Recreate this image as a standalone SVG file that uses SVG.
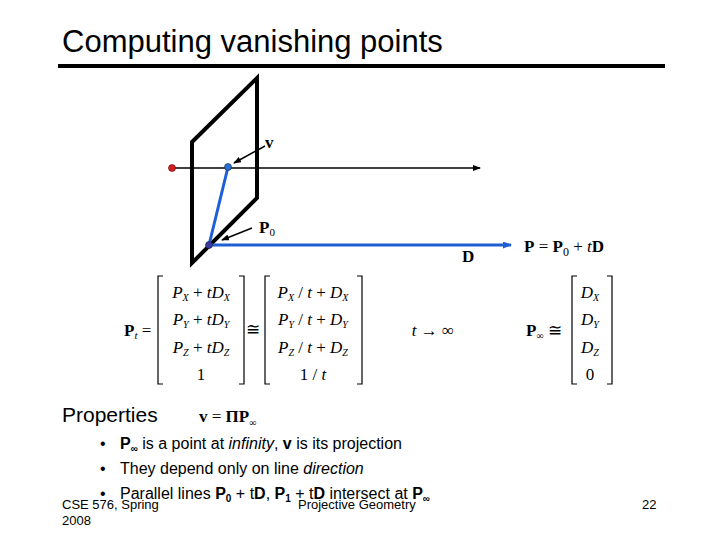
<svg xmlns="http://www.w3.org/2000/svg" width="720" height="540" viewBox="0 0 720 540">
<defs>
<marker id="ab" markerWidth="8" markerHeight="6" refX="7" refY="3" orient="auto" markerUnits="userSpaceOnUse"><path d="M0,0 L8,3 L0,6 Z" fill="#000"/></marker>
<marker id="abl" markerWidth="9" markerHeight="7" refX="8" refY="3.5" orient="auto" markerUnits="userSpaceOnUse"><path d="M0,0 L9,3.5 L0,7 Z" fill="#1f5fd6"/></marker>
<style>
.s{font-family:"Liberation Sans",Arial,sans-serif;fill:#000}
.m{font-family:"Liberation Serif","Times New Roman",serif;fill:#000;font-size:17px}
.b{font-weight:bold}
.i{font-style:italic}
.br{fill:none;stroke:#000;stroke-width:1.2}
</style>
</defs>
<rect width="720" height="540" fill="#fff"/>
<text class="s" x="62" y="52" font-size="31">Computing vanishing points</text>
<line x1="58" y1="66" x2="665" y2="66" stroke="#000" stroke-width="4"/>
<g id="plane"><path d="M192,142 L257,78 L257,198 L192,263 Z" fill="none" stroke="#000" stroke-width="4"/></g>
<g id="connectors">
<line x1="172" y1="168" x2="480" y2="168" stroke="#000" stroke-width="1.5" marker-end="url(#ab)"/>
<line x1="228" y1="167" x2="209" y2="245" stroke="#1f5fd6" stroke-width="3"/>
<line x1="209" y1="245" x2="511" y2="245" stroke="#1f5fd6" stroke-width="3" marker-end="url(#abl)"/>
<line x1="265" y1="146" x2="234" y2="163" stroke="#000" stroke-width="1.5" marker-end="url(#ab)"/>
<line x1="252" y1="228" x2="222" y2="240" stroke="#000" stroke-width="1.5" marker-end="url(#ab)"/>
</g>
<g id="points">
<circle cx="172" cy="168" r="3.5" fill="#d42020" stroke="#600" stroke-width="0.6"/>
<circle cx="228" cy="167" r="3.5" fill="#2a6fd6" stroke="#123" stroke-width="0.6"/>
<circle cx="209" cy="245" r="3.5" fill="#3a3aa0" stroke="#123" stroke-width="0.6"/>
</g>
<text class="m b" x="265" y="148" font-size="15">v</text>
<text class="m b" x="259" y="233" font-size="16">P<tspan font-size="11" dy="3" font-weight="normal">0</tspan></text>
<text class="m b" x="462" y="262" font-size="15">D</text>
<text class="m" x="524" y="252" font-size="19"><tspan class="b">P</tspan> = <tspan class="b">P</tspan><tspan font-size="12" dy="4">0</tspan><tspan dy="-4"> + </tspan><tspan class="i">t</tspan><tspan class="b">D</tspan></text>
<g id="equation">
<text class="m" x="124" y="336"><tspan class="b">P</tspan><tspan class="i" font-size="11" dy="3">t</tspan><tspan dy="-3"> =</tspan></text>
<path class="br" d="M163,276 H158 V384 H163 M239,276 H244 V384 H239"/>
<g class="m" text-anchor="middle">
<text x="201" y="298"><tspan class="i">P</tspan><tspan class="i" font-size="10" dy="3">X</tspan><tspan dy="-3"> + </tspan><tspan class="i">tD</tspan><tspan class="i" font-size="10" dy="3">X</tspan></text>
<text x="201" y="325"><tspan class="i">P</tspan><tspan class="i" font-size="10" dy="3">Y</tspan><tspan dy="-3"> + </tspan><tspan class="i">tD</tspan><tspan class="i" font-size="10" dy="3">Y</tspan></text>
<text x="201" y="353"><tspan class="i">P</tspan><tspan class="i" font-size="10" dy="3">Z</tspan><tspan dy="-3"> + </tspan><tspan class="i">tD</tspan><tspan class="i" font-size="10" dy="3">Z</tspan></text>
<text x="201" y="380">1</text>
<text x="253" y="335">≅</text>
<text x="313" y="298"><tspan class="i">P</tspan><tspan class="i" font-size="10" dy="3">X</tspan><tspan dy="-3"> / </tspan><tspan class="i">t</tspan> + <tspan class="i">D</tspan><tspan class="i" font-size="10" dy="3">X</tspan></text>
<text x="313" y="325"><tspan class="i">P</tspan><tspan class="i" font-size="10" dy="3">Y</tspan><tspan dy="-3"> / </tspan><tspan class="i">t</tspan> + <tspan class="i">D</tspan><tspan class="i" font-size="10" dy="3">Y</tspan></text>
<text x="313" y="353"><tspan class="i">P</tspan><tspan class="i" font-size="10" dy="3">Z</tspan><tspan dy="-3"> / </tspan><tspan class="i">t</tspan> + <tspan class="i">D</tspan><tspan class="i" font-size="10" dy="3">Z</tspan></text>
<text x="313" y="380">1 / <tspan class="i">t</tspan></text>
<text x="433" y="336"><tspan class="i">t</tspan> → ∞</text>
<text x="590" y="298"><tspan class="i">D</tspan><tspan class="i" font-size="10" dy="3">X</tspan></text>
<text x="590" y="325"><tspan class="i">D</tspan><tspan class="i" font-size="10" dy="3">Y</tspan></text>
<text x="590" y="353"><tspan class="i">D</tspan><tspan class="i" font-size="10" dy="3">Z</tspan></text>
<text x="590" y="380">0</text>
</g>
<path class="br" d="M270,276 H265 V384 H270 M357,276 H362 V384 H357"/>
<text class="m" x="526" y="336"><tspan class="b">P</tspan><tspan font-size="10" dy="3">∞</tspan><tspan dy="-3"> ≅</tspan></text>
<path class="br" d="M577,276 H572 V384 H577 M607,276 H612 V384 H607"/>
</g>
<text class="s" x="62" y="422" font-size="21">Properties</text>
<text class="m" x="199" y="422" font-size="17"><tspan class="b">v</tspan> = <tspan class="b">ΠP</tspan><tspan font-size="10" dy="4">∞</tspan></text>
<g class="s" font-size="16">
<text x="100" y="449">•</text><text x="120" y="449"><tspan class="b">P</tspan><tspan class="b" font-size="10" dy="3">∞</tspan><tspan dy="-3"> is a point at </tspan><tspan class="i">infinity</tspan>, <tspan class="b">v</tspan> is its projection</text>
<text x="100" y="474">•</text><text x="120" y="474">They depend only on line <tspan class="i">direction</tspan></text>
<text x="100" y="499">•</text><text x="120" y="499">Parallel lines <tspan class="b">P</tspan><tspan class="b" font-size="10" dy="3">0</tspan><tspan dy="-3"> + t</tspan><tspan class="b">D</tspan>, <tspan class="b">P</tspan><tspan class="b" font-size="10" dy="3">1</tspan><tspan dy="-3"> + t</tspan><tspan class="b">D</tspan> intersect at <tspan class="b">P</tspan><tspan class="b" font-size="10" dy="3">∞</tspan></text>
</g>
<g class="s" font-size="13">
<text x="62" y="509">CSE 576, Spring</text>
<text x="62" y="525">2008</text>
<text x="298" y="509">Projective Geometry</text>
<text x="642" y="509">22</text>
</g>
</svg>
